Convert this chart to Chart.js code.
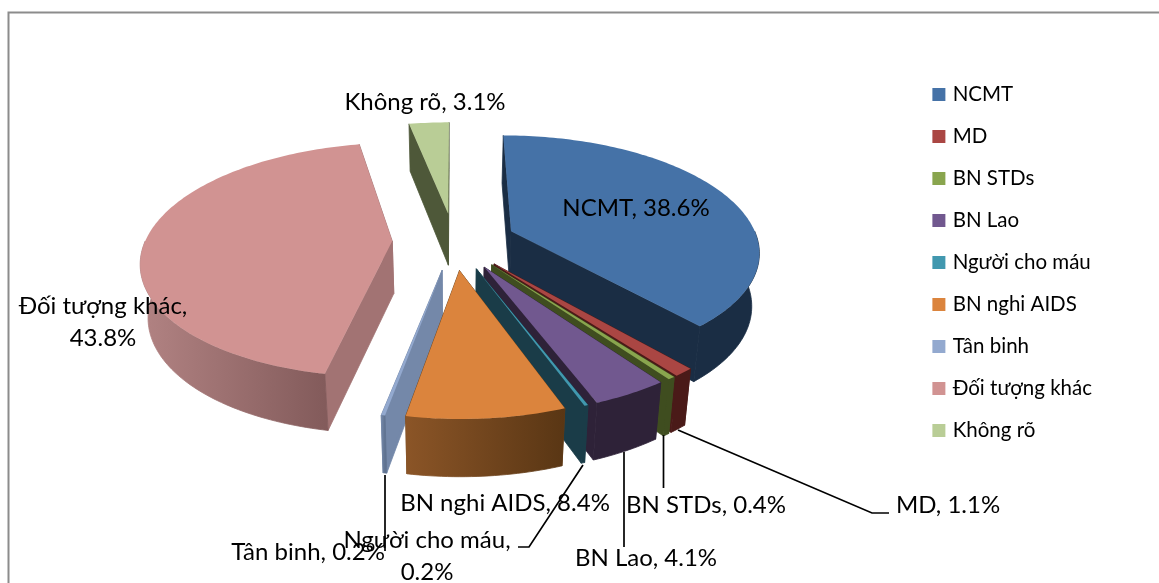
<!DOCTYPE html>
<html lang="vi">
<head>
<meta charset="utf-8">
<title>Đối tượng nhiễm HIV</title>
<script src="https://cdn.jsdelivr.net/npm/chart.js@4"></script>
<style>
    html, body { margin: 0; background: #fff; overflow: hidden; }
    #wrap { width: 1159px; height: 583px; }
</style>
</head>
<body>
<div id="wrap"><canvas id="pieChart"></canvas></div>
<script>
const categories = ['NCMT', 'MD', 'BN STDs', 'BN Lao', 'Người cho máu', 'BN nghi AIDS', 'Tân binh', 'Đối tượng khác', 'Không rõ'];
const percents = [38.6, 1.1, 0.4, 4.1, 0.2, 8.4, 0.2, 43.8, 3.1];

const topColors = ['#4572a7', '#aa4643', '#89a54e', '#71588f', '#4198af', '#db843d', '#93a9cf', '#d19392', '#b9cd96'];
const cutColors = ['#1a2d44', '#4a1a18', '#3f4d1f', '#2e2238', '#1a3c48', '#6b421c', '#7488a9', '#a27373', '#4e5839'];
const sideFrom = ['#1a2d44', '#4a1a18', '#3f4d1f', '#2e2238', '#1a3c48', '#8b5527', '#7488a9', '#b28383', '#4e5839'];
const sideTo = ['#1a2d44', '#4a1a18', '#3f4d1f', '#2e2238', '#1a3c48', '#593614', '#5f7290', '#835b5b', '#4e5839'];

const PIE_RADIUS = 160;
const EXPLODE = 40;

// perspective view of the pie plane
const view = { cx: 454, cy: 241, a: 247, b: 114, k: 0.16, height: 52.5, shrink: 0.975 };

const LABEL_FONT = '24px Lato';

const dataLabels = [
    { i: 0, lines: [0], x: 636, y: 208 },
    { i: 1, lines: [0], x: 948, y: 505 },
    { i: 2, lines: [0], x: 706, y: 505 },
    { i: 3, lines: [0], x: 646, y: 558 },
    { i: 4, lines: [0, 1], x: 427, y: 540 },
    { i: 5, lines: [0], x: 505, y: 503 },
    { i: 6, lines: [0], x: 308, y: 552 },
    { i: 7, lines: [0, 1], x: 103, y: 306 },
    { i: 8, lines: [0], x: 425, y: 102 }
];

const leaderLines = [
    [[385, 475], [385, 551]],
    [[583, 465], [529, 547], [518, 547]],
    [[624, 452], [624, 547]],
    [[663.5, 435], [663.5, 488]],
    [[678, 430], [872, 513], [889, 513]]
];

function project(u, v, depth) {
    const s = 1 / (1 - view.k * v);
    let x = view.a * u * s;
    let y = view.b * v * s;
    if (depth) {
        x *= view.shrink;
        y += view.height * (1 + 0.08 * v);
    }
    return { x: view.cx + x, y: view.cy + y };
}

// corners and arc of one slice, from the geometry Chart.js worked out for it
function slicePoints(arc, depth, fromAngle, toAngle) {
    const props = arc.getProps(['startAngle', 'endAngle', 'outerRadius']);
    const mid = (props.startAngle + props.endAngle) / 2;
    const e = arc.options.offset / props.outerRadius;
    const ox = Math.cos(mid) * e;
    const oy = Math.sin(mid) * e;
    const at = (angle, r) => project(ox + Math.cos(angle) * r, oy + Math.sin(angle) * r, depth);
    const from = fromAngle === undefined ? props.startAngle : fromAngle;
    const to = toAngle === undefined ? props.endAngle : toAngle;
    const steps = Math.max(2, Math.ceil((to - from) / 0.02));
    const rim = [];
    for (let n = 0; n <= steps; n++) {
        rim.push(at(from + (to - from) * n / steps, 1));
    }
    return { apex: at(0, 0), rim: rim };
}

function fillPoly(ctx, points, fill, seam) {
    ctx.beginPath();
    points.forEach((p, n) => n ? ctx.lineTo(p.x, p.y) : ctx.moveTo(p.x, p.y));
    ctx.closePath();
    ctx.fillStyle = fill;
    ctx.fill();
    if (seam) {
        // hides the hairline between neighbouring faces
        ctx.strokeStyle = fill;
        ctx.lineWidth = 0.8;
        ctx.stroke();
    }
}

function drawSlice(ctx, arc, index) {
    const top = slicePoints(arc, false);
    const low = slicePoints(arc, true);

    // cut faces
    fillPoly(ctx, [top.apex, top.rim[0], low.rim[0], low.apex], cutColors[index], true);
    fillPoly(ctx, [top.apex, top.rim[top.rim.length - 1], low.rim[low.rim.length - 1], low.apex], cutColors[index], true);

    // rim face, only the part turned to the viewer
    const props = arc.getProps(['startAngle', 'endAngle']);
    const from = Math.max(props.startAngle, 0);
    const to = Math.min(props.endAngle, Math.PI);
    if (to > from) {
        const upper = slicePoints(arc, false, from, to).rim;
        const lower = slicePoints(arc, true, from, to).rim;
        const xs = upper.map(p => p.x);
        const gradient = ctx.createLinearGradient(Math.min(...xs), 0, Math.max(...xs), 0);
        gradient.addColorStop(0, sideFrom[index]);
        gradient.addColorStop(1, sideTo[index]);
        fillPoly(ctx, upper.concat(lower.slice().reverse()), gradient, true);
    }

    // top face
    fillPoly(ctx, [top.apex].concat(top.rim), topColors[index], false);
}

const pie3dPlugin = {
    id: 'pie3d',
    beforeDraw(chart) {
        const ctx = chart.ctx;
        ctx.save();
        ctx.fillStyle = '#fff';
        ctx.fillRect(0, 0, chart.width, chart.height);
        ctx.strokeStyle = '#8c8c8c';
        ctx.lineWidth = 2;
        ctx.beginPath();
        ctx.moveTo(8.5, chart.height);
        ctx.lineTo(8.5, 12.5);
        ctx.lineTo(chart.width, 12.5);
        ctx.stroke();
        ctx.restore();
    },
    beforeDatasetsDraw(chart) {
        const ctx = chart.ctx;
        const arcs = chart.getDatasetMeta(0).data;
        const backFirst = arcs.map((arc, i) => {
            const mid = (arc.startAngle + arc.endAngle) / 2;
            return { arc: arc, i: i, dist: Math.abs(mid - Math.PI / 2) };
        }).sort((p, q) => q.dist - p.dist);

        ctx.save();
        backFirst.forEach(item => drawSlice(ctx, item.arc, item.i));

        ctx.strokeStyle = '#000';
        ctx.lineWidth = 1.7;
        leaderLines.forEach(line => {
            ctx.beginPath();
            line.forEach((p, n) => n ? ctx.lineTo(p[0], p[1]) : ctx.moveTo(p[0], p[1]));
            ctx.stroke();
        });

        ctx.fillStyle = '#000';
        ctx.font = LABEL_FONT;
        ctx.textAlign = 'center';
        ctx.textBaseline = 'middle';
        dataLabels.forEach(label => {
            const name = categories[label.i] + ',';
            const value = percents[label.i].toFixed(1) + '%';
            const lineTexts = label.lines.length > 1 ? [name, value] : [name + ' ' + value];
            lineTexts.forEach((text, n) => ctx.fillText(text, label.x, label.y + n * 32));
        });
        ctx.restore();
        return false;
    }
};

new Chart(document.getElementById('pieChart'), {
    type: 'pie',
    data: {
        labels: categories,
        datasets: [{
            data: percents,
            backgroundColor: topColors,
            borderWidth: 0,
            offset: EXPLODE
        }]
    },
    options: {
        responsive: true,
        maintainAspectRatio: false,
        animation: false,
        radius: PIE_RADIUS,
        layout: { padding: { bottom: 58, right: 57 } },
        plugins: {
            tooltip: { enabled: false },
            legend: {
                position: 'right',
                labels: {
                    color: '#000',
                    font: { family: 'Lato', size: 20.5 },
                    boxWidth: 7,
                    boxHeight: 7,
                    padding: 21.5,
                    generateLabels(chart) {
                        return categories.map((name, i) => ({
                            text: name,
                            fillStyle: topColors[i],
                            strokeStyle: topColors[i],
                            lineWidth: 6,
                            index: i
                        }));
                    }
                }
            }
        }
    },
    plugins: [pie3dPlugin]
});
</script>
</body>
</html>
